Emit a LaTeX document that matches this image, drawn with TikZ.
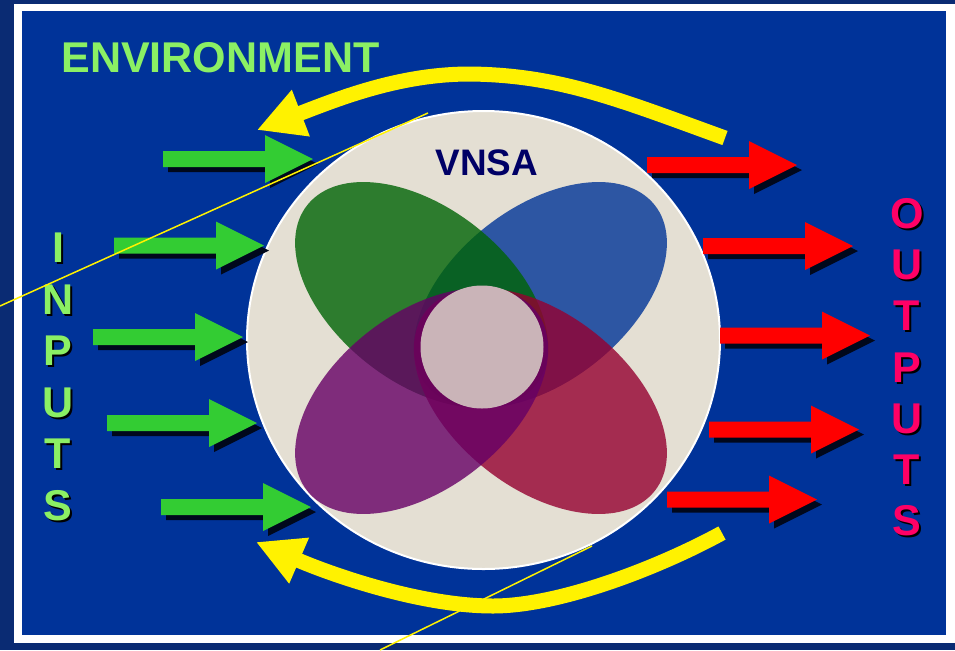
\documentclass[tikz,border=0pt]{standalone}
\usepackage{fontspec}
\setmainfont{Liberation Sans}
\usetikzlibrary{arrows.meta}

\definecolor{slidenavy}{HTML}{0A2B73}
\definecolor{slideblue}{HTML}{003399}
\definecolor{discbeige}{HTML}{E4DFD3}
\definecolor{corepink}{HTML}{CAB4B8}
\definecolor{petalgreen}{HTML}{006405}
\definecolor{petalblue}{HTML}{003497}
\definecolor{petalred}{HTML}{950030}
\definecolor{petalpurple}{HTML}{660066}
\definecolor{inputgreen}{HTML}{33CC33}
\definecolor{labelgreen}{HTML}{8BF064}
\definecolor{outputpink}{HTML}{FF0066}
\definecolor{titlenavy}{HTML}{000066}
\definecolor{arrowshade}{HTML}{00081C}

\newcommand{\shadowtxt}[1]{\rlap{\kern0.4mm\raisebox{-0.4mm}{\color{black}#1}}#1}

\begin{document}
\begin{tikzpicture}[x=0.2mm, y=-0.2mm,
        petal/.style={opacity=0.8},
        inarrow/.style={fill=inputgreen},
        outarrow/.style={fill=red},
        arrowshadow/.style={fill=arrowshade},
        feedback/.style={yellow, line width=3mm, -{Triangle[length=9.4mm, width=9.4mm]}},
        guide/.style={yellow, line width=0.3mm},
        bigletter/.style={font=\bfseries\fontsize{24.5}{29}\selectfont, inner sep=0pt, anchor=base}]
        \useasboundingbox (0,0) rectangle (955,650);

        % slide background and frame
        \fill[slidenavy] (0,0) rectangle (955,650);
        \fill[white] (14,4) rectangle (955,643);
        \fill[slideblue] (22,11) rectangle (946,635);

        % system disc
        \filldraw[fill=discbeige, draw=white, line width=0.4mm] (483.5,340) ellipse [x radius=236.5, y radius=229];

        % four petals (drawn back to front)
        \begin{scope}[shift={(481,348)}, xscale=1.12]
            \fill[petal, petalblue, shift={(53,-53)}, rotate=45] (0,0) ellipse [x radius=136.5, y radius=83];
            \fill[petal, petalgreen, shift={(-53,-53)}, rotate=-45] (0,0) ellipse [x radius=136.5, y radius=83];
            \fill[petal, petalred, shift={(53,53)}, rotate=-45] (0,0) ellipse [x radius=136.5, y radius=83];
            \fill[petal, petalpurple, shift={(-53,53)}, rotate=45] (0,0) ellipse [x radius=136.5, y radius=83];
        \end{scope}
        \fill[corepink] (482,347) circle [radius=61.5];

        \node[font=\bfseries\fontsize{21}{25}\selectfont, text=titlenavy, inner sep=0pt, anchor=base] (vnsa) at (487,175) {VNSA};

        % input arrows
        \foreach \x/\y in {163/159, 114/245.5, 93/337, 107/423, 161/507} {
            \fill[arrowshadow] (\x+5,\y-3) -- ++(102,0) -- ++(0,-16) -- ++(48,24) -- ++(-48,24) -- ++(0,-16) -- ++(-102,0) -- cycle;
            \fill[inarrow] (\x,\y-8) -- ++(102,0) -- ++(0,-16) -- ++(48,24) -- ++(-48,24) -- ++(0,-16) -- ++(-102,0) -- cycle;
        }

        % output arrows
        \foreach \x/\y in {647/165, 703/246, 720/335.5, 709/429.5, 667/499.5} {
            \fill[arrowshadow] (\x+5,\y-3) -- ++(102,0) -- ++(0,-16) -- ++(48,24) -- ++(-48,24) -- ++(0,-16) -- ++(-102,0) -- cycle;
            \fill[outarrow] (\x,\y-8) -- ++(102,0) -- ++(0,-16) -- ++(48,24) -- ++(-48,24) -- ++(0,-16) -- ++(-102,0) -- cycle;
        }

        % feedback loops
        \coordinate (topTail) at (725,138);
        \coordinate (topTip) at (257,130);
        \coordinate (lowTail) at (722,533);
        \coordinate (lowTip) at (256,542);
        \draw[feedback] (topTail) .. controls (620,100) and (560,75) .. (470,74)
            .. controls (400,74) and (340,98) .. (topTip);
        \draw[feedback] (lowTail) .. controls (660,567) and (560,606) .. (493,606)
            .. controls (420,606) and (330,574) .. (lowTip);

        % labels
        \node[font=\bfseries\fontsize{24.5}{29}\selectfont, text=labelgreen, inner sep=0pt, anchor=base west] (env) at (61,72) {ENVIRONMENT};
        \foreach \l [count=\i] in {I,N,P,U,T,S}
            \node[bigletter, text=labelgreen] (in\i) at (58, {262.5+51.6*(\i-1)}) {\shadowtxt{\l}};
        \foreach \l [count=\i] in {O,U,T,P,U,T,S}
            \node[bigletter, text=outputpink] (out\i) at (907, {228.5+51.2*(\i-1)}) {\shadowtxt{\l}};

        % thin guide lines
        \coordinate (guideA1) at (0,306);
        \coordinate (guideA2) at (428,113);
        \coordinate (guideB1) at (592,546);
        \coordinate (guideB2) at (380,650);
        \draw[guide] (guideA1) -- (guideA2);
        \draw[guide] (guideB1) -- (guideB2);
\end{tikzpicture}
\end{document}
